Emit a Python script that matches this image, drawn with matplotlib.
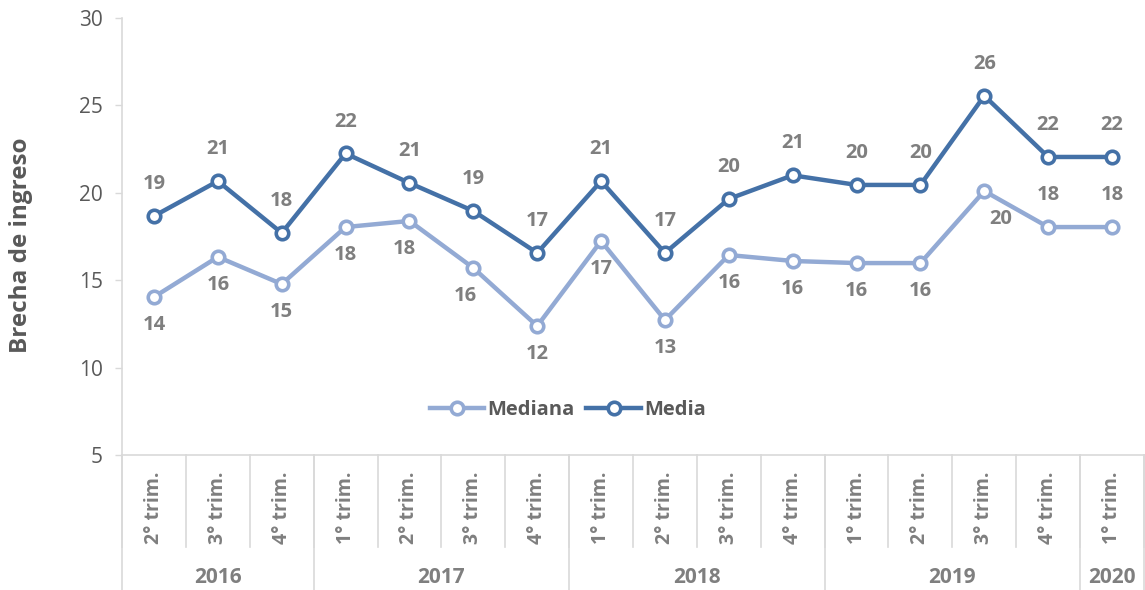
import numpy as np
import matplotlib.pyplot as plt
import matplotlib.transforms as mtransforms

plt.rcParams["font.family"] = ["Open Sans", "DejaVu Sans"]

quarters = ["2° trim.", "3° trim.", "4° trim.",
            "1° trim.", "2° trim.", "3° trim.", "4° trim.",
            "1° trim.", "2° trim.", "3° trim.", "4° trim.",
            "1° trim.", "2° trim.", "3° trim.", "4° trim.",
            "1° trim."]
years = ["2016", "2017", "2018", "2019", "2020"]
quarters_per_year = [3, 4, 4, 4, 1]

media = [18.67, 20.67, 17.7, 22.25, 20.56, 18.96, 16.56, 20.67,
         16.56, 19.65, 21.0, 20.45, 20.45, 25.55, 22.05, 22.05]
mediana = [14.04, 16.33, 14.78, 18.04, 18.39, 15.7, 12.38, 17.24,
           12.72, 16.44, 16.1, 15.98, 15.98, 20.1, 18.04, 18.04]

c_media = "#4471A7"
c_mediana = "#93AAD4"
c_text = "#7F7F7F"
c_tick = "#595959"
c_grid = "#D9D9D9"

fig = plt.figure(figsize=(11.45, 5.9), dpi=100)
ax = fig.add_axes([0.1066, 0.2288, 0.8925, 0.7407])

x = np.arange(len(quarters))
ax.plot(x, mediana, color=c_mediana, lw=3.2, marker="o", ms=9,
        mfc="white", mec=c_mediana, mew=2.6, label="Mediana", zorder=3)
ax.plot(x, media, color=c_media, lw=3.2, marker="o", ms=9,
        mfc="white", mec=c_media, mew=2.6, label="Media", zorder=3)

# data labels
for i, v in enumerate(media):
    ax.annotate(f"{v:.0f}", (i, v), xytext=(0, 23), textcoords="offset points",
                ha="center", va="center", fontsize=14.5, fontweight="bold",
                color=c_text)
for i, v in enumerate(mediana):
    dx, dy = 0, -20
    if i in (14, 15):
        dy = 23
    elif i == 13:
        dx, dy = 12, -20
    elif i == 4:
        dx = -4
    elif i == 5:
        dx = -6
    ax.annotate(f"{v:.0f}", (i, v), xytext=(dx, dy), textcoords="offset points",
                ha="center", va="center", fontsize=14.5, fontweight="bold",
                color=c_text)

ax.set_xlim(-0.5, len(quarters) - 0.5)
ax.set_ylim(5, 30)
ax.set_yticks(np.arange(5, 31, 5))
ax.tick_params(axis="y", colors=c_grid, labelcolor=c_tick, labelsize=15,
               length=5, width=1, pad=9)
ax.set_xticks([])
for s in ["top", "right"]:
    ax.spines[s].set_visible(False)
for s in ["left", "bottom"]:
    ax.spines[s].set_color(c_grid)
    ax.spines[s].set_linewidth(1.2)

ax.set_ylabel("Brecha de ingreso", fontsize=17.5, fontweight="bold",
              color=c_tick)
ax.yaxis.set_label_coords(-0.087, 0.48)

# two-level category axis
trans = mtransforms.blended_transform_factory(ax.transData, ax.transAxes)
for i, q in enumerate(quarters):
    ax.text(i, -0.12, q, transform=trans, rotation=90, ha="center",
            va="center", fontsize=14, fontweight="bold", color=c_text)
for k in range(len(quarters) + 1):
    ax.plot([k - 0.5, k - 0.5], [0, -0.21], transform=trans, color=c_grid,
            lw=1.2, clip_on=False)
bounds = np.concatenate([[0], np.cumsum(quarters_per_year)]) - 0.5
for b in bounds:
    ax.plot([b, b], [0, -0.32], transform=trans, color=c_grid, lw=1.2,
            clip_on=False)
for y, a, b in zip(years, bounds[:-1], bounds[1:]):
    ax.text((a + b) / 2, -0.281, y, transform=trans, ha="center", va="center",
            fontsize=15, fontweight="bold", color=c_text)

leg = ax.legend(loc="center", bbox_to_anchor=(0.436, 0.103), ncol=2,
                frameon=False, fontsize=14.5, handlelength=2.7,
                columnspacing=0.6, handletextpad=0.15)
for t in leg.get_texts():
    t.set_fontweight("bold")
    t.set_color(c_tick)

fig.savefig("out.png", dpi=100)
